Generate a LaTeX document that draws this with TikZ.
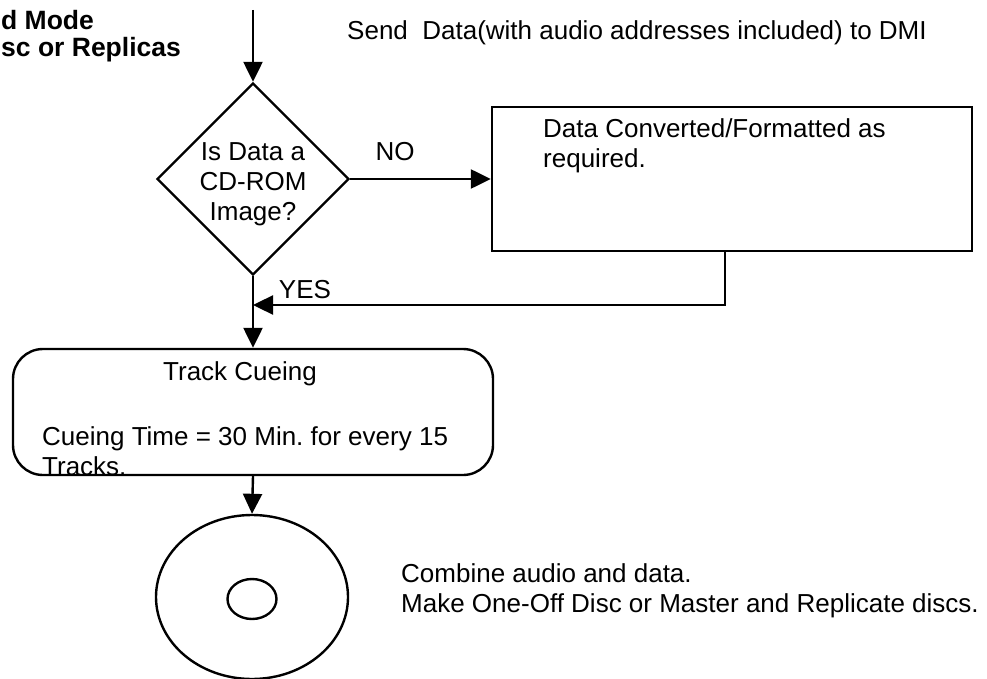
\documentclass[tikz,border=0pt]{standalone}
\usepackage{fontspec}
\setmainfont{Liberation Sans}
\usetikzlibrary{arrows.meta}
\usetikzlibrary{shapes.geometric}
\usetikzlibrary{positioning}
\tikzset{flow/.style = {-{Triangle[length=20pt, width=19pt]}}}
\tikzset{decision/.style = {draw, diamond, inner sep = 0, minimum width = 192pt, minimum height = 192pt}}
\tikzset{procbox/.style = {draw, rectangle, minimum width = 480pt, minimum height = 144pt}}
\tikzset{cuebox/.style = {draw, rectangle, rounded corners = 30pt, minimum width = 480pt, minimum height = 126pt}}
\tikzset{txt/.style = {inner sep = 0, align = left}}
\frenchspacing

\begin{document}
\begin{tikzpicture}[x=1pt, y=-1pt, line width=2.4pt, font=\fontsize{26}{30}\selectfont]
      \useasboundingbox (0, 0) rectangle (987, 679);

      \node [txt, anchor=west, font=\fontsize{26.5}{30}\selectfont\bfseries] (modeA) at (0, 20) {d Mode};
      \node [txt, anchor=west, font=\fontsize{26.5}{30}\selectfont\bfseries] (modeB) at (0, 50) {sc or Replicas};
      \node [txt, anchor=west] (send) at (346, 33) {Send\ \ Data(with audio addresses included) to DMI};

      \coordinate (start) at (253, 10);
      \node [decision] (isrom) at (253, 179) {};
      \node [txt, align=center] (isromtxt) at (253, 184) {Is Data a\\CD-ROM\\Image?};
      \node [procbox] (conv) at (732, 179) {};
      \node [txt, anchor=north west] (convtxt) at (542, 117) {Data Converted/Formatted as\\required.};
      \coordinate (back) at (725, 305);

      \node [cuebox] (cue) at (253, 412) {};
      \node [txt] (cuetitle) at (240, 374) {Track Cueing};
      \node [txt, anchor=north west] (cuetxt) at (41, 425) {Cueing Time = 30 Min. for every 15\\Tracks.};

      \node [draw, ellipse, minimum width = 192pt, minimum height = 164pt] (disc) at (252, 597) {};
      \node [draw, ellipse, inner sep = 0, minimum width = 49pt, minimum height = 40pt] (hole) at (252, 599) {};
      \node [txt, anchor=north west] (combine) at (400, 562) {Combine audio and data.\\Make One-Off Disc or Master and Replicate discs.};

      \draw [flow] (start) -- (isrom.north);
      \draw [flow] (isrom.east) -- (isrom.east -| conv.west) node [pos=0.32, above=14pt] (no) {NO};
      \draw [flow] (conv.south -| back) -- (back) -- (back -| isrom.south) node [pos=0.89, above=2pt] (yes) {YES};
      \draw [flow] (isrom.south) -- (cue.north);
      \draw [flow] (cue.south) -- (disc.north);
    \end{tikzpicture}
\end{document}
